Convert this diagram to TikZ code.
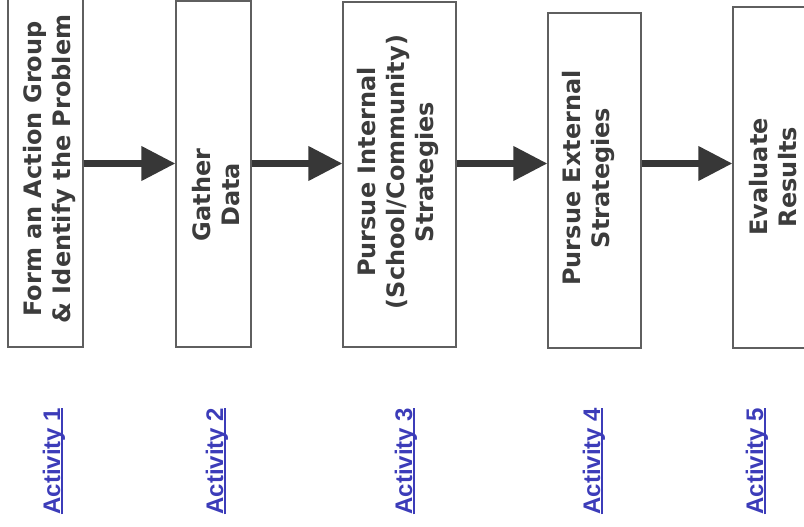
\documentclass[tikz,border=0pt]{standalone}
\usepackage{fontspec}
\usetikzlibrary{arrows.meta}
\newfontfamily\stepfont{DejaVu Sans Bold}
\newfontfamily\actfont{Liberation Sans Bold}
\definecolor{boxline}{RGB}{95,95,95}
\definecolor{arrowgray}{RGB}{55,55,55}
\definecolor{textgray}{RGB}{60,60,60}
\definecolor{actblue}{RGB}{60,60,185}
\newcommand{\ulact}[1]{\setbox0\hbox{#1}\rlap{\rule[-2.8pt]{\wd0}{1.4pt}}\box0}

\begin{document}
\begin{tikzpicture}[x=1pt, y=-1pt,
    actbox/.style={draw=boxline, line width=1.2pt, inner sep=0pt},
    steptext/.style={rotate=90, align=center, text=textgray, font=\stepfont\fontsize{24}{29}\selectfont},
    actlabel/.style={rotate=90, anchor=base, text=actblue, font=\actfont\fontsize{24}{29}\selectfont},
    flow/.style={arrowgray, line width=7pt, -{Triangle[length=34pt, width=33pt]}}]
    \useasboundingbox (0,0) rectangle (804,527);

    % Boxes
    \node[actbox, minimum width=75pt, minimum height=356pt] (b1) at (45.5,169) {};
    \node[actbox, minimum width=75pt, minimum height=346pt] (b2) at (213.5,174) {};
    \node[actbox, minimum width=113pt, minimum height=345pt] (b3) at (399.5,174.5) {};
    \node[actbox, minimum width=93pt, minimum height=335pt] (b4) at (594.5,180.5) {};
    \node[actbox, minimum width=80pt, minimum height=341pt] (b5) at (773,177.5) {};

    % Box texts
    \node[steptext] (t1) at (49,169) {Form an Action Group\\\& Identify the Problem};
    \node[steptext] (t2) at (216,195) {Gather\\Data};
    \node[steptext] (t3) at (397.5,172) {Pursue Internal\\(School/Community)\\Strategies};
    \node[steptext] (t4) at (588,178) {Pursue External\\Strategies};
    \node[steptext] (t5) at (773,177) {Evaluate\\Results};

    % Arrows between the boxes
    \coordinate (flowline) at (0,163.5);
    \foreach \a/\b in {b1/b2, b2/b3, b3/b4, b4/b5} {
        \draw[flow] (\a.east |- flowline) -- (\b.west |- flowline);
    }

    % Activity labels
    \foreach \x/\n in {60/1, 223/2, 412/3, 600/4, 763/5} {
        \node[actlabel] (act\n) at (\x,461) {\ulact{Activity \n}};
    }
\end{tikzpicture}
\end{document}
